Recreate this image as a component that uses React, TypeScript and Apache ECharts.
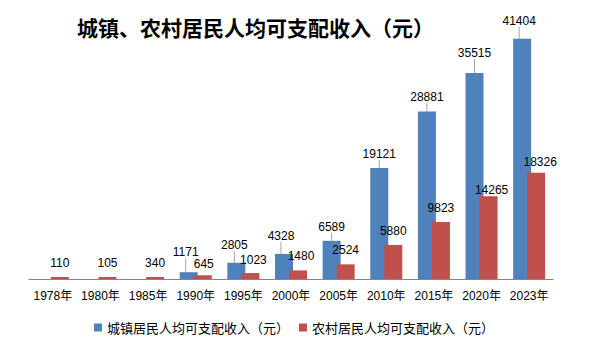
import React, { useEffect, useRef } from "react";
import * as echarts from "echarts";

const categories = ["1978年", "1980年", "1985年", "1990年", "1995年", "2000年", "2005年", "2010年", "2015年", "2020年", "2023年"];
const urbanValues = [null, null, null, 1171, 2805, 4328, 6589, 19121, 28881, 35515, 41404];
const ruralValues = [110, 105, 340, 645, 1023, 1480, 2524, 5880, 9823, 14265, 18326];
const urbanName = "城镇居民人均可支配收入（元）";
const ruralName = "农村居民人均可支配收入（元）";
const titleText = "城镇、农村居民人均可支配收入（元）";

// label nudges (dx, dy) per data index, to mimic manually moved labels
const urbanShift: Record<number, [number, number]> = {
  3: [-3, -6],
  4: [-2, -4],
  5: [-3, -4],
  9: [0, -6],
  10: [-3, -4],
};
const ruralShift: Record<number, [number, number]> = {
  3: [1, 3],
  4: [3, 1],
  5: [3, 0],
  9: [3, 8],
  10: [4, 3],
};

export default function App() {
  const ref = useRef<HTMLDivElement>(null);
  useEffect(() => {
    if (!ref.current) return;
    const chart = echarts.init(ref.current, undefined, { renderer: "svg" });
    const labelFont = "'Liberation Sans', 'Noto Sans CJK SC', sans-serif";
    chart.setOption({
      animation: false,
      backgroundColor: "#ffffff",
      title: {
        text: titleText,
        left: 72,
        top: 11,
        textStyle: {
          fontFamily: "'Noto Sans CJK SC', serif",
          fontSize: 21,
          fontWeight: "bold",
          color: "#000000",
        },
      },
      legend: {
        left: 89,
        top: 316,
        icon: "rect",
        itemWidth: 8,
        itemHeight: 8,
        itemGap: 10,
        textStyle: {
          fontFamily: "'Noto Sans CJK SC', sans-serif",
          fontSize: 13,
          color: "#000000",
        },
        data: [urbanName, ruralName],
      },
      grid: { left: 29, right: 60, top: 18, bottom: 83, containLabel: false },
      xAxis: {
        type: "category",
        data: categories,
        axisLine: { show: true, lineStyle: { color: "#868686", width: 1 } },
        axisTick: { show: false },
        axisLabel: {
          fontFamily: labelFont,
          fontSize: 12,
          color: "#000000",
          margin: 11,
          interval: 0,
        },
      },
      yAxis: {
        type: "value",
        min: 0,
        max: 45000,
        show: false,
        splitLine: { show: false },
      },
      series: [
        {
          name: urbanName,
          type: "bar",
          data: urbanValues,
          barWidth: 18,
          barGap: "-22%",
          itemStyle: { color: "#4F81BD" },
          label: {
            show: true,
            position: "top",
            distance: 8,
            fontFamily: labelFont,
            fontSize: 12,
            color: "#000000",
          },
          labelLine: { show: true, lineStyle: { color: "#A6A6A6", width: 1 } },
          labelLayout: (p: any) => {
            const s = urbanShift[p.dataIndex];
            return s ? { dx: s[0], dy: s[1] } : {};
          },
        },
        {
          name: ruralName,
          type: "bar",
          data: ruralValues,
          barWidth: 18,
          barMinHeight: 2,
          itemStyle: { color: "#C0504D" },
          label: {
            show: true,
            position: "top",
            distance: 8,
            fontFamily: labelFont,
            fontSize: 12,
            color: "#000000",
          },
          labelLayout: (p: any) => {
            const s = ruralShift[p.dataIndex];
            return s ? { dx: s[0], dy: s[1] } : {};
          },
        },
      ],
    });
    return () => chart.dispose();
  }, []);
  return (
    <div
      ref={ref}
      style={{ position: "fixed", left: 0, top: 0, width: 613, height: 362 }}
    />
  );
}
